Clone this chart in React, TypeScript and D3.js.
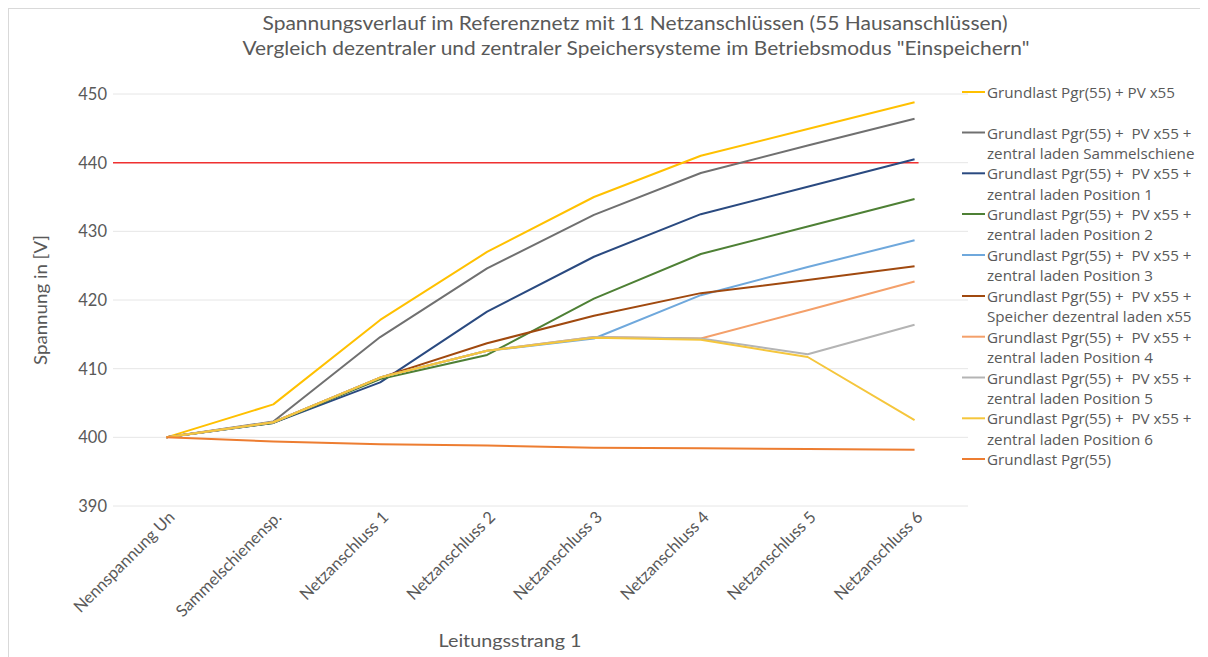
import React from "react";
import * as d3 from "d3";

const categories = [
  "Nennspannung Un",
  "Sammelschienensp.",
  "Netzanschluss 1",
  "Netzanschluss 2",
  "Netzanschluss 3",
  "Netzanschluss 4",
  "Netzanschluss 5",
  "Netzanschluss 6",
];

const seriesNames = [
  ["Grundlast Pgr(55) + PV x55"],
  ["Grundlast Pgr(55) +  PV x55 +", "zentral laden Sammelschiene"],
  ["Grundlast Pgr(55) +  PV x55 +", "zentral laden Position 1"],
  ["Grundlast Pgr(55) +  PV x55 +", "zentral laden Position 2"],
  ["Grundlast Pgr(55) +  PV x55 +", "zentral laden Position 3"],
  ["Grundlast Pgr(55) +  PV x55 +", "Speicher dezentral laden x55"],
  ["Grundlast Pgr(55) +  PV x55 +", "zentral laden Position 4"],
  ["Grundlast Pgr(55) +  PV x55 +", "zentral laden Position 5"],
  ["Grundlast Pgr(55) +  PV x55 +", "zentral laden Position 6"],
  ["Grundlast Pgr(55)"],
];

const pvX55 = [400, 404.8, 417.1, 427.0, 435.0, 441.0, 444.9, 448.8];
const zentralSammelschiene = [400, 402.3, 414.6, 424.6, 432.4, 438.5, 442.5, 446.4];
const zentralPos1 = [400, 402.1, 408.0, 418.3, 426.3, 432.5, 436.5, 440.5];
const zentralPos2 = [400, 402.1, 408.5, 412.0, 420.2, 426.7, 430.7, 434.7];
const zentralPos3 = [400, 402.2, 408.7, 412.6, 414.4, 420.7, 424.8, 428.7];
const dezentralX55 = [400, 402.2, 408.7, 413.7, 417.7, 421.0, 422.9, 424.9];
const zentralPos4 = [400, 402.2, 408.7, 412.6, 414.6, 414.4, 418.5, 422.7];
const zentralPos5 = [400, 402.2, 408.7, 412.6, 414.6, 414.4, 412.1, 416.4];
const zentralPos6 = [400, 402.2, 408.7, 412.6, 414.5, 414.2, 411.7, 402.5];
const grundlast = [400, 399.4, 399.0, 398.8, 398.5, 398.4, 398.3, 398.2];

const seriesValues = [
  pvX55,
  zentralSammelschiene,
  zentralPos1,
  zentralPos2,
  zentralPos3,
  dezentralX55,
  zentralPos4,
  zentralPos5,
  zentralPos6,
  grundlast,
];

const seriesColors = [
  "#FFC000",
  "#707070",
  "#2A4A80",
  "#4E8035",
  "#6FA8DC",
  "#A0490F",
  "#F4A06A",
  "#B4B4B4",
  "#F5C63C",
  "#ED7D31",
];

const limitValue = 440;
const yTicks = [390, 400, 410, 420, 430, 440, 450];

const title1 = "Spannungsverlauf im Referenznetz mit 11 Netzanschlüssen (55 Hausanschlüssen)";
const title2 = 'Vergleich dezentraler und zentraler Speichersysteme im Betriebsmodus "Einspeichern"';
const yTitle = "Spannung in [V]";
const xTitle = "Leitungsstrang 1";

const FONT = "'Open Sans', 'DejaVu Sans', sans-serif";
const TFONT = "Lato, 'Open Sans', sans-serif";
const TEXT = "#595959";

export default function App() {
  const W = 1200;
  const H = 649;
  const plotL = 113;
  const plotR = 968;
  const plotT = 94;
  const plotB = 506;

  const x = d3.scalePoint<string>().domain(categories).range([plotL, plotR]).padding(0.5);
  const y = d3.scaleLinear().domain([390, 450]).range([plotB, plotT]);
  const line = d3
    .line<number>()
    .x((_, i) => x(categories[i]) as number)
    .y((d) => y(d));

  const legendX = 962;
  const legendTops = [92, 132.5, 173.3, 214, 255, 296, 336.7, 377.5, 418.3, 459];
  const lineGap = 20.4;

  return (
    <svg width={W} height={H} style={{ display: "block" }}>
      <g transform="translate(-8,-8)">
        <rect x={8.5} y={8.5} width={1220} height={700} fill="#fff" stroke="#D9D9D9" strokeWidth={1} />
        <text x={635} y={22} textAnchor="middle" dominantBaseline="central" fontFamily={TFONT} fontSize={19.5} fill={TEXT} textLength={745} lengthAdjust="spacingAndGlyphs">
          {title1}
        </text>
        <text x={636} y={47} textAnchor="middle" dominantBaseline="central" fontFamily={TFONT} fontSize={19.5} fill={TEXT} textLength={787} lengthAdjust="spacingAndGlyphs">
          {title2}
        </text>

        {yTicks.map((t) => (
          <g key={t}>
            <line x1={plotL} x2={plotR} y1={y(t)} y2={y(t)} stroke="#E6E6E6" strokeWidth={1} />
            <text x={plotL - 6} y={y(t)} textAnchor="end" dominantBaseline="central" fontFamily={TFONT} fontSize={16.5} fill={TEXT}>
              {t}
            </text>
          </g>
        ))}

        <line x1={plotL} x2={(x(categories[categories.length - 1]) as number) + 4} y1={y(limitValue)} y2={y(limitValue)} stroke="#F03030" strokeWidth={1.5} />

        {categories.map((c) => (
          <text
            key={c}
            transform={`translate(${(x(c) as number) + 5},${plotB + 8}) rotate(-45)`}
            textAnchor="end"
            dominantBaseline="central"
            fontFamily={TFONT}
            fontSize={16.5}
            fill={TEXT}
          >
            {c}
          </text>
        ))}

        {seriesValues.map((vals, i) => (
          <path key={i} d={line(vals) || ""} fill="none" stroke={seriesColors[i]} strokeWidth={2} strokeLinejoin="round" />
        ))}

        <text transform={`translate(40,300) rotate(-90)`} textAnchor="middle" dominantBaseline="central" fontFamily={TFONT} fontSize={18} fill={TEXT} textLength={130} lengthAdjust="spacingAndGlyphs">
          {yTitle}
        </text>
        <text x={510} y={640} textAnchor="middle" dominantBaseline="central" fontFamily={TFONT} fontSize={18} fill={TEXT} textLength={143} lengthAdjust="spacingAndGlyphs">
          {xTitle}
        </text>

        {seriesNames.map((lines, i) => (
          <g key={i}>
            <line x1={legendX} x2={legendX + 23} y1={legendTops[i]} y2={legendTops[i]} stroke={seriesColors[i]} strokeWidth={2} />
            {lines.map((ln, j) => (
              <text key={j} x={legendX + 25} y={legendTops[i] + j * lineGap} dominantBaseline="central" fontFamily={FONT} fontSize={15.2} fill={TEXT} style={{ whiteSpace: "pre" }}>
                {ln}
              </text>
            ))}
          </g>
        ))}
      </g>
    </svg>
  );
}
